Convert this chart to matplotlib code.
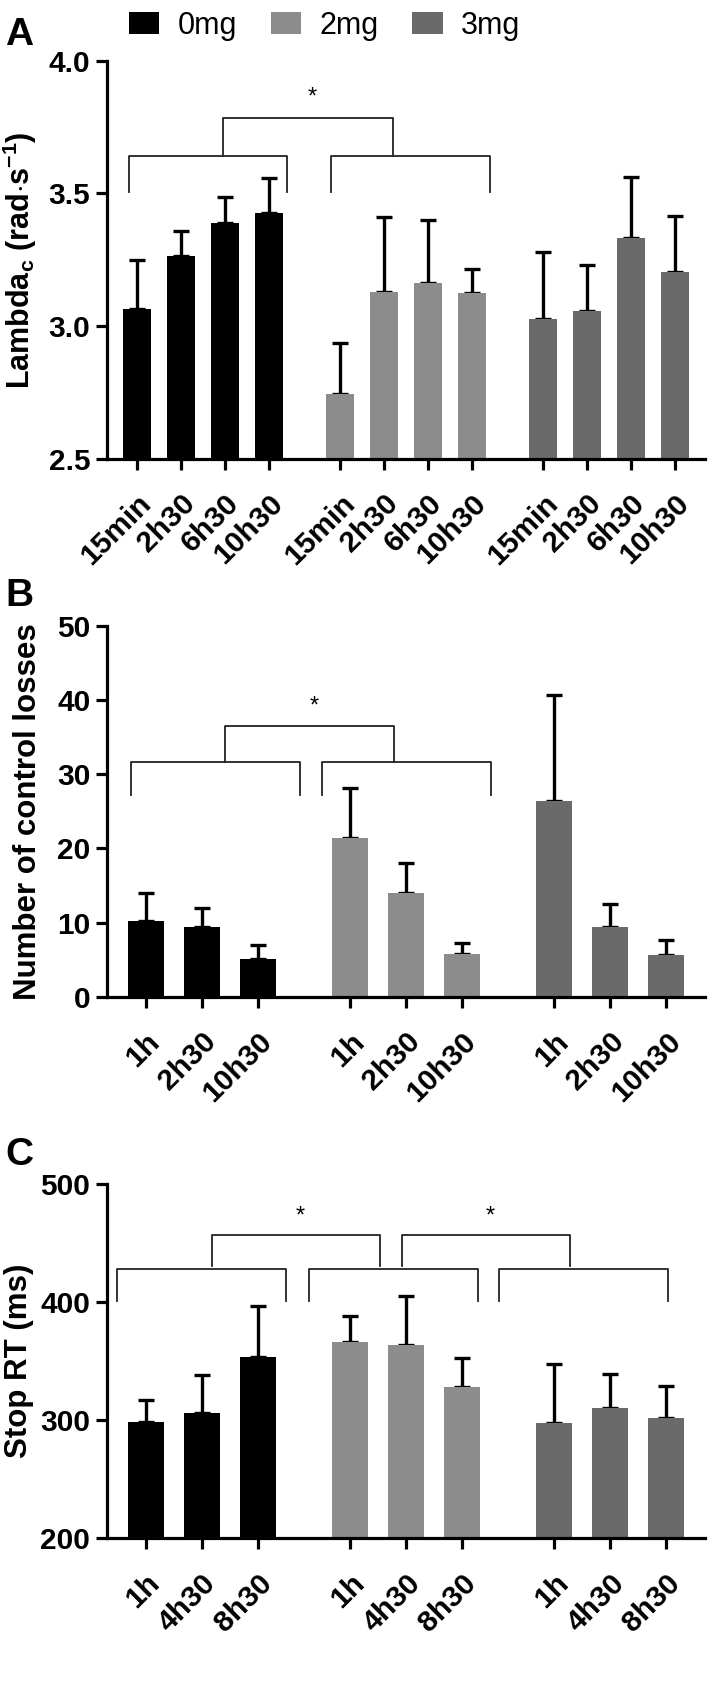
import numpy as np
import matplotlib
matplotlib.use("Agg")
import matplotlib.pyplot as plt
import matplotlib.transforms as mtransforms
from matplotlib.patches import Patch

plt.rcParams['font.family'] = ['Liberation Sans', 'DejaVu Sans']
plt.rcParams['font.weight'] = 'bold'
plt.rcParams['axes.labelweight'] = 'bold'
plt.rcParams['mathtext.fontset'] = 'custom'
plt.rcParams['mathtext.rm'] = 'Liberation Sans:bold'
plt.rcParams['mathtext.bf'] = 'Liberation Sans:bold'

doses = ['0mg', '2mg', '3mg']
colors = ['#000000', '#8c8c8c', '#6a6a6a']

# panel A - Lambda_c
a_times = ['15min', '2h30', '6h30', '10h30']
a_mean = [[3.064, 3.266, 3.388, 3.428],
          [2.744, 3.130, 3.162, 3.124],
          [3.026, 3.058, 3.331, 3.203]]
a_top = [[3.25, 3.36, 3.486, 3.56],
         [2.938, 3.41, 3.40, 3.215],
         [3.28, 3.23, 3.563, 3.416]]

# panel B - control losses
b_times = ['1h', '2h30', '10h30']
b_mean = [[10.2, 9.43, 5.04],
          [21.4, 14.0, 5.71],
          [26.4, 9.43, 5.62]]
b_top = [[14.0, 11.9, 6.97],
         [28.2, 18.0, 7.19],
         [40.7, 12.45, 7.64]]

# panel C - stop RT
c_times = ['1h', '4h30', '8h30']
c_mean = [[298.2, 305.8, 353.8],
          [366.5, 363.7, 327.8],
          [297.4, 310.1, 301.6]]
c_top = [[317.1, 338.0, 396.7],
         [388.2, 405.4, 352.4],
         [347.6, 339.1, 329.0]]

W = 0.64


def panel(ax, times, means, tops, ylim, yticks, fmt):
    n = len(times)
    xs_all, labs = [], []
    for g in range(3):
        xs = np.arange(n) + g * (n + W)
        m = np.array(means[g])
        err = np.array(tops[g]) - m
        ax.bar(xs, m - ylim[0], bottom=ylim[0], width=W, color=colors[g], zorder=2)
        ax.errorbar(xs, m, yerr=[np.zeros(n), err], fmt='none', ecolor='black',
                    elinewidth=2.4, capsize=5.5, capthick=2.4, zorder=1)
        xs_all += list(xs)
        labs += times
    ax.set_xlim(-0.69, xs_all[-1] + 0.69)
    ax.set_ylim(*ylim)
    ax.set_yticks(yticks)
    ax.set_yticklabels([fmt % v for v in yticks])
    ax.set_xticks(xs_all)
    ax.set_xticklabels(labs, rotation=45, ha='right', rotation_mode='anchor')
    off = mtransforms.ScaledTranslation(7 / 100, 0, fig.dpi_scale_trans)
    for t in ax.get_xticklabels():
        t.set_transform(t.get_transform() + off)
    for s in ['top', 'right']:
        ax.spines[s].set_visible(False)
    for s in ['left', 'bottom']:
        ax.spines[s].set_linewidth(2.3)
    ax.tick_params(width=2.3, length=8, labelsize=21.5, pad=4)
    ax.tick_params(axis='x', pad=14)
    ax.spines['left'].set_bounds(ylim[0], ylim[1])


def bracket(ax, x0, x1, y, yleg):
    ax.plot([x0, x0, x1, x1], [yleg, y, y, yleg], color='#222222', lw=1.3,
            clip_on=False, zorder=3)


def star(ax, x, y):
    ax.text(x, y, '*', ha='center', va='center', fontsize=17, fontweight='normal')


fig = plt.figure(figsize=(7.09, 16.86), dpi=100)
axA = fig.add_axes([0.1509, 0.7278, 0.8434, 0.2362])
axB = fig.add_axes([0.1509, 0.4088, 0.8434, 0.2200])
axC = fig.add_axes([0.1509, 0.0876, 0.8434, 0.2101])

panel(axA, a_times, a_mean, a_top, (2.5, 4.0), [2.5, 3.0, 3.5, 4.0], '%.1f')
panel(axB, b_times, b_mean, b_top, (0, 50), [0, 10, 20, 30, 40, 50], '%d')
panel(axC, c_times, c_mean, c_top, (200, 500), [200, 300, 400, 500], '%d')

axA.set_ylabel(r'Lambda$_\mathbf{c}$ (rad$\cdot$s$^\mathbf{-1}$)', fontsize=22, fontweight='bold')
axB.set_ylabel('Number of control losses', fontsize=22.5, fontweight='bold')
axC.set_ylabel('Stop RT (ms)', fontsize=22.5, fontweight='bold')
axA.yaxis.set_label_coords(-0.114, 0.5)
axB.yaxis.set_label_coords(-0.107, 0.5)
axC.yaxis.set_label_coords(-0.122, 0.5)

# significance brackets
bracket(axA, -0.18, 3.43, 3.641, 3.506)
bracket(axA, 4.42, 8.05, 3.641, 3.506)
bracket(axA, 1.97, 5.84, 3.785, 3.641)
star(axA, 4.0, 3.863)

bracket(axB, -0.27, 2.75, 31.7, 27.2)
bracket(axB, 3.14, 6.16, 31.7, 27.2)
bracket(axB, 1.41, 4.43, 36.5, 31.7)
star(axB, 3.0, 39.1)

bracket(axC, -0.52, 2.5, 428, 400.9)
bracket(axC, 2.91, 5.93, 428, 400.9)
bracket(axC, 6.30, 9.32, 428, 400.9)
bracket(axC, 1.18, 4.18, 456.8, 430.8)
bracket(axC, 4.57, 7.57, 456.8, 430.8)
star(axC, 2.75, 472.3)
star(axC, 6.15, 472.3)

for lab, yy in [('A', 45), ('B', 606), ('C', 1165)]:
    fig.text(5 / 709, 1 - yy / 1686, lab, fontsize=28, fontweight='bold', va='baseline')

handles = [Patch(facecolor=c) for c in colors]
fig.legend(handles, doses, loc='upper left', bbox_to_anchor=(118 / 709, 1.0), ncol=3,
           frameon=False, handlelength=1.0, handleheight=0.7, columnspacing=1.1,
           handletextpad=0.6, borderaxespad=0.1, borderpad=0.25,
           prop={'family': 'Liberation Sans', 'weight': 'normal', 'size': 22})

fig.savefig('out.png', dpi=100)
